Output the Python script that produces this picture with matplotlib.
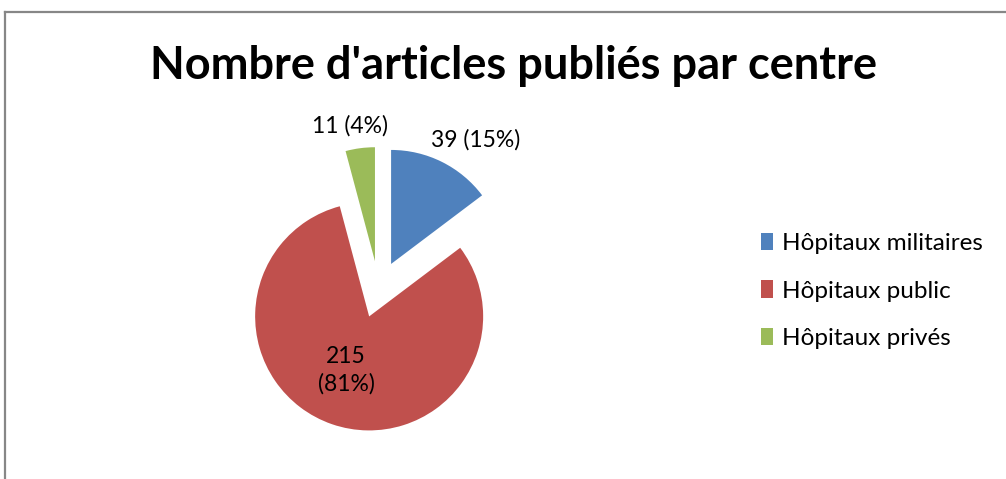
import matplotlib
matplotlib.use("Agg")
import matplotlib.pyplot as plt
from matplotlib.lines import Line2D

categories = ["Hôpitaux militaires", "Hôpitaux public", "Hôpitaux privés"]
values = [39, 215, 11]
percent_labels = ["39 (15%)", "215\n(81%)", "11 (4%)"]
colors = ["#4F81BD", "#C0504D", "#9BBB59"]
title = "Nombre d'articles publiés par centre"

W, H = 1006, 479
fig = plt.figure(figsize=(W / 100, H / 100), dpi=100)
plt.rcParams['font.family'] = ['Lato', 'DejaVu Sans']

# border (cropped: only left and top visible)
fig.add_artist(Line2D([5 / W, 5 / W], [0, 1 - 12 / H], color="#878787", lw=1.6, transform=fig.transFigure))
fig.add_artist(Line2D([5 / W, 1], [1 - 12 / H, 1 - 12 / H], color="#878787", lw=1.6, transform=fig.transFigure))

cx, cy = 378.6, 289.0
half = 150
ax = fig.add_axes([(cx - half) / W, (H - cy - half) / H, 2 * half / W, 2 * half / H])

wedges, _ = ax.pie(values, colors=colors, startangle=90, counterclock=False,
                   radius=1.14, explode=[0.28, 0.29, 0.28], center=(0, 0),
                   frame=True, wedgeprops=dict(linewidth=0))
ax.set_xlim(-1.5, 1.5)
ax.set_ylim(-1.5, 1.5)
ax.set_aspect("equal")
ax.axis("off")

def px(x, y):
    return ((x - cx) / 100.0, (cy - y) / 100.0)

label_pos = [px(476, 140), px(346, 370), px(350, 126)]
for (x, y), t in zip(label_pos, percent_labels):
    ax.text(x, y, t, ha="center", va="center", fontsize=16.5, color="#000000",
            linespacing=1.35)

fig.text(514 / W, 1 - 66 / H, title, ha="center", va="center", fontsize=32.5,
         fontweight="bold", color="#000000")

leg = fig.legend(wedges, categories, loc="center left",
                 bbox_to_anchor=(749 / W, 1 - 291 / H), frameon=False,
                 fontsize=17.5, handlelength=0.5, handleheight=0.7,
                 handletextpad=0.35, labelspacing=1.07, borderpad=0)

fig.savefig("out.png", dpi=100, facecolor="white")
